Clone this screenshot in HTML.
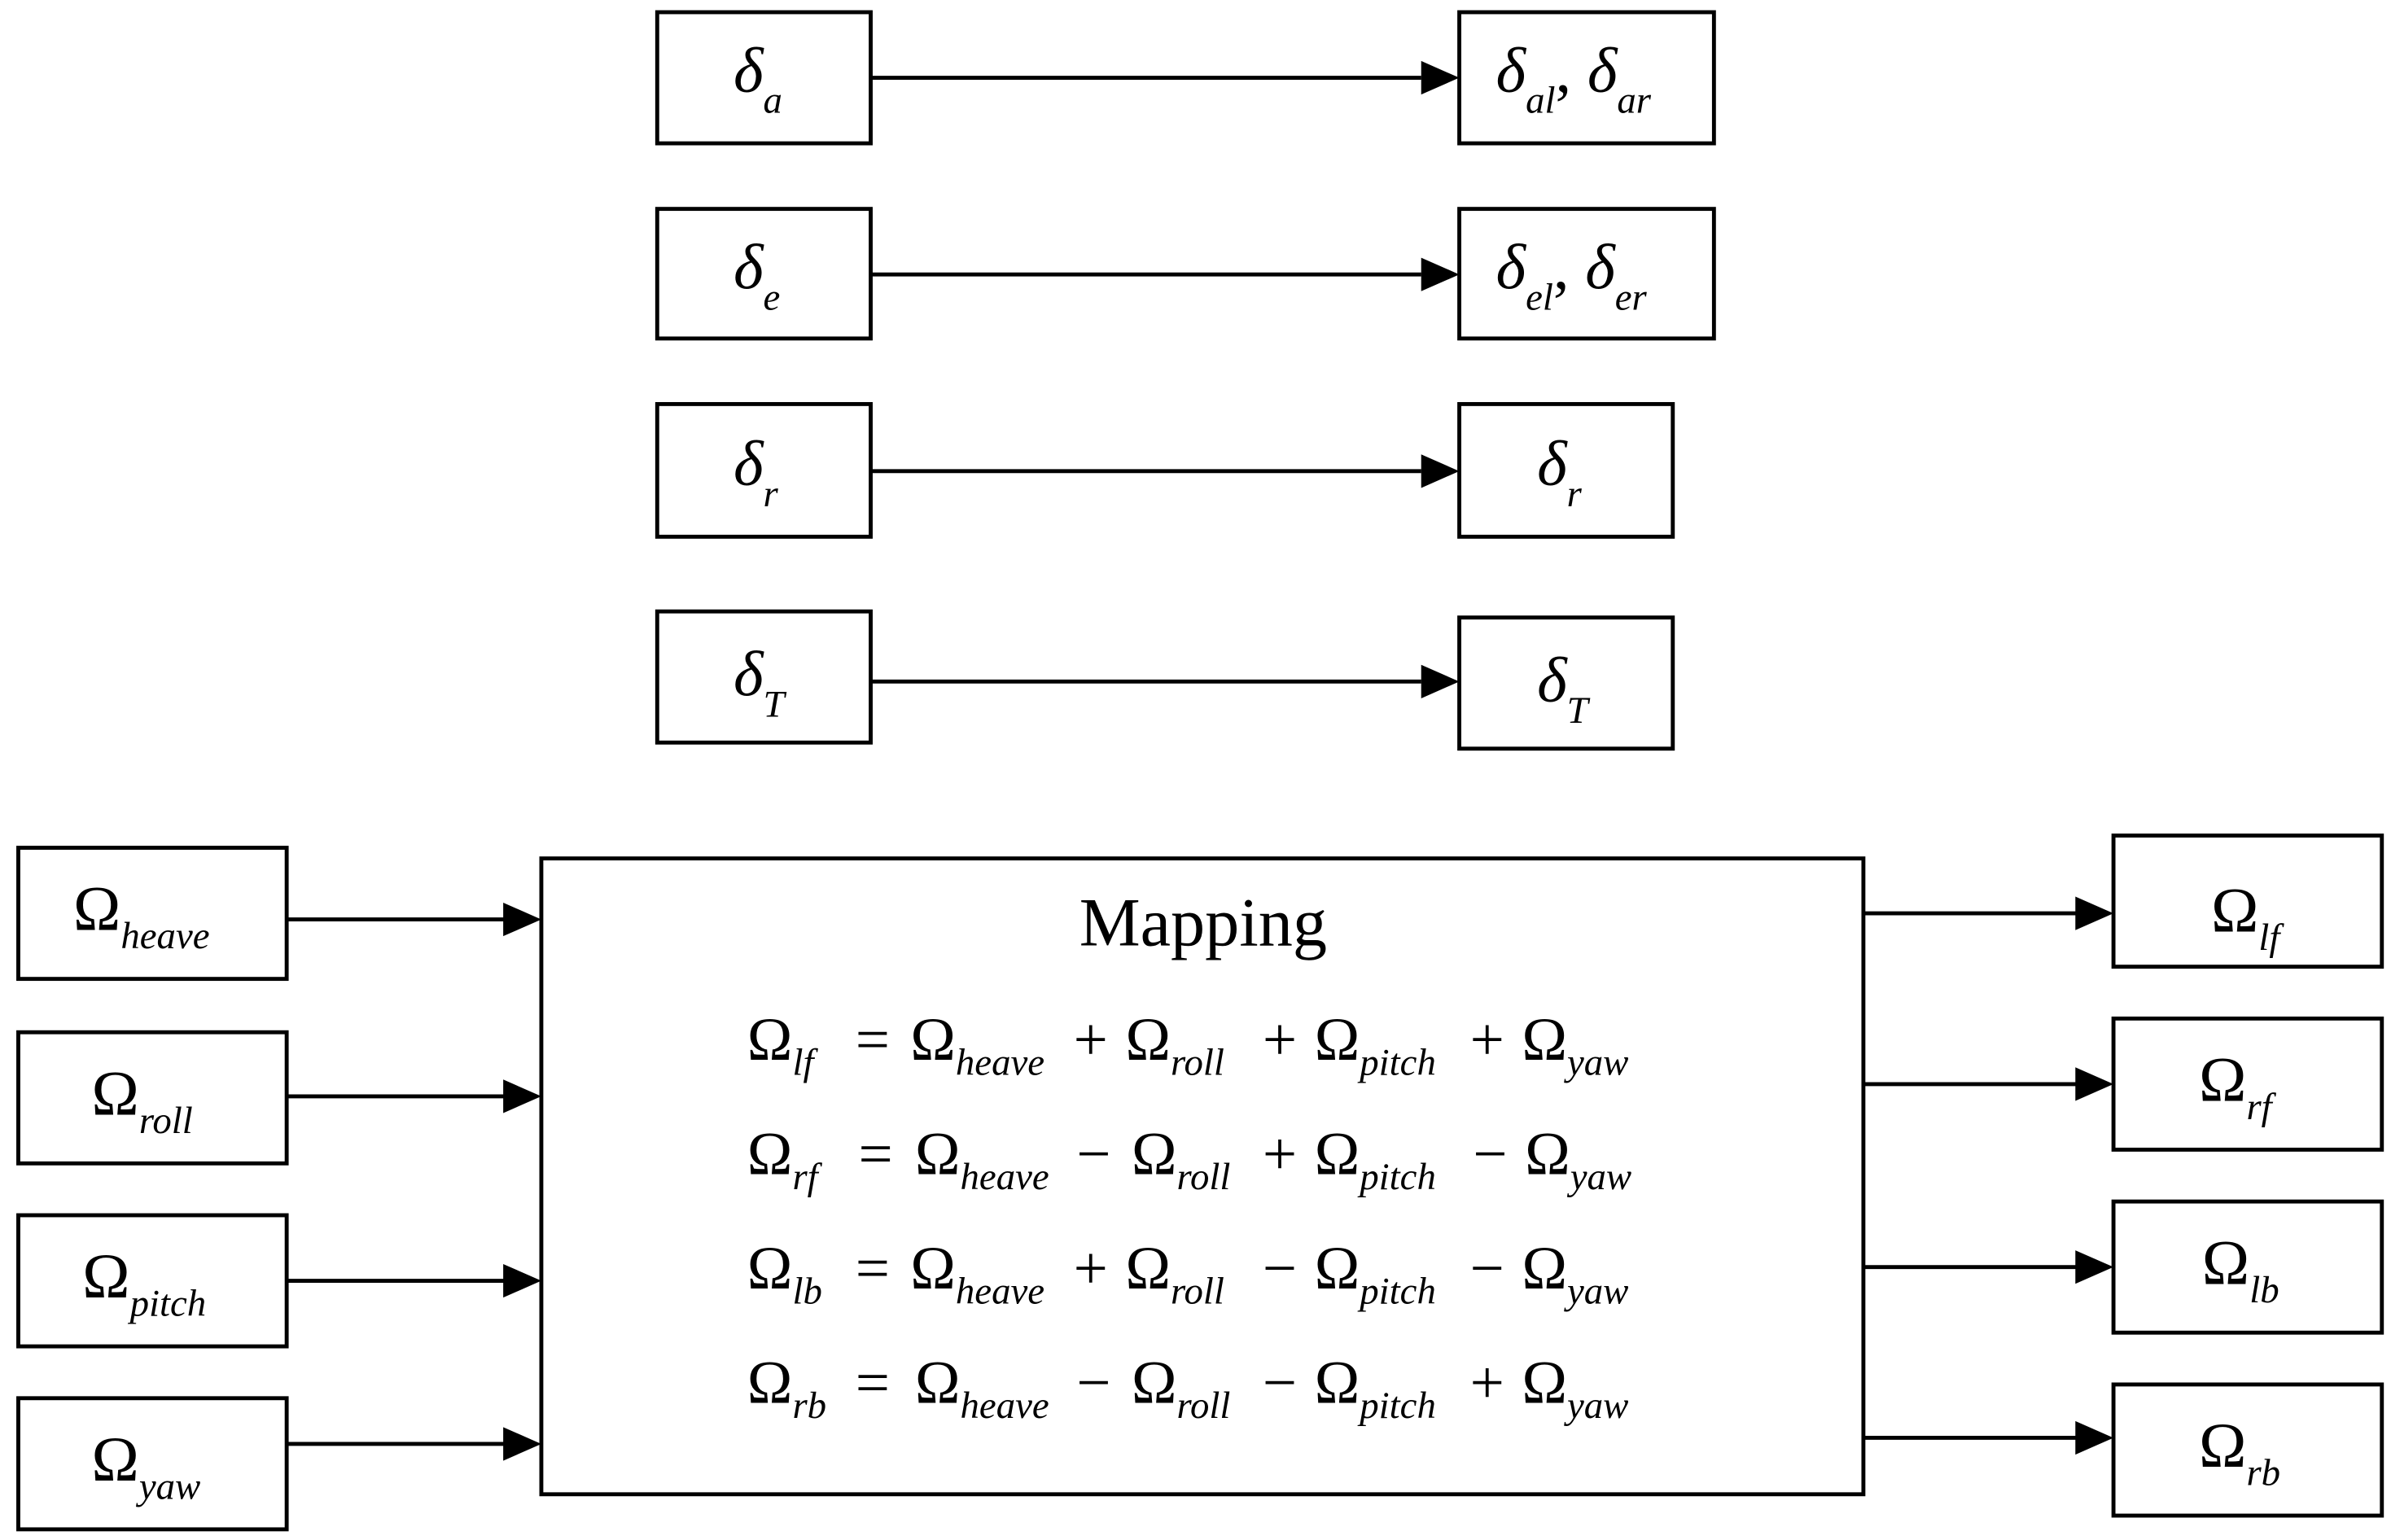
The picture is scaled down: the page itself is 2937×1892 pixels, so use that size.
<!DOCTYPE html>
<html><head><meta charset="utf-8"><style>
html,body{margin:0;padding:0;background:#fff;}
svg{display:block;}
text{font-family:"Liberation Serif",serif;fill:#000;}
.g{font-size:42px;}
.d{font-size:42px;font-style:italic;}
.s{font-size:25px;font-style:italic;}
.e{font-size:40px;}
</style></head><body>
<svg width="2937" height="1892" viewBox="0 0 1568 1010" preserveAspectRatio="none" xmlns="http://www.w3.org/2000/svg">
<g fill="none" stroke="#000" stroke-width="2.6">
<rect x="431" y="8" width="140" height="86"/><rect x="957" y="8" width="167" height="86"/>
<rect x="431" y="137" width="140" height="85"/><rect x="957" y="137" width="167" height="85"/>
<rect x="431" y="265" width="140" height="87"/><rect x="957" y="265" width="140" height="87"/>
<rect x="431" y="401" width="140" height="86"/><rect x="957" y="405" width="140" height="86"/>
<rect x="12" y="556" width="176" height="86"/><rect x="12" y="677" width="176" height="86"/>
<rect x="12" y="797" width="176" height="86"/><rect x="12" y="917" width="176" height="86"/>
<rect x="355" y="563" width="867" height="417"/>
<rect x="1386" y="548" width="176" height="86"/><rect x="1386" y="668" width="176" height="86"/>
<rect x="1386" y="788" width="176" height="86"/><rect x="1386" y="908" width="176" height="86"/>
</g>
<g stroke="#000" stroke-width="2.6">
<line x1="571" y1="51" x2="932" y2="51"/><line x1="571" y1="180" x2="932" y2="180"/>
<line x1="571" y1="309" x2="932" y2="309"/><line x1="571" y1="447" x2="932" y2="447"/>
<line x1="188" y1="603" x2="331" y2="603"/><line x1="188" y1="719" x2="331" y2="719"/>
<line x1="188" y1="840" x2="331" y2="840"/><line x1="188" y1="947" x2="331" y2="947"/>
<line x1="1222" y1="599" x2="1362" y2="599"/><line x1="1222" y1="711" x2="1362" y2="711"/>
<line x1="1222" y1="831" x2="1362" y2="831"/><line x1="1222" y1="943" x2="1362" y2="943"/>
</g>
<g fill="#000">
<path d="M957,51 l-25,-11 v22z"/><path d="M957,180 l-25,-11 v22z"/><path d="M957,309 l-25,-11 v22z"/><path d="M957,447 l-25,-11 v22z"/>
<path d="M355,603 l-25,-11 v22z"/><path d="M355,719 l-25,-11 v22z"/><path d="M355,840 l-25,-11 v22z"/><path d="M355,947 l-25,-11 v22z"/>
<path d="M1386,599 l-25,-11 v22z"/><path d="M1386,711 l-25,-11 v22z"/><path d="M1386,831 l-25,-11 v22z"/><path d="M1386,943 l-25,-11 v22z"/>
</g>
<text x="481" y="60" class="d">δ<tspan class="s" dy="14">a</tspan></text>
<text x="981" y="60" class="d">δ<tspan class="s" dy="14">al</tspan><tspan dy="-14" font-style="normal">,</tspan> δ<tspan class="s" dy="14">ar</tspan></text>
<text x="481" y="189" class="d">δ<tspan class="s" dy="14">e</tspan></text>
<text x="981" y="189" class="d">δ<tspan class="s" dy="14">el</tspan><tspan dy="-14" font-style="normal">,</tspan> δ<tspan class="s" dy="14">er</tspan></text>
<text x="481" y="318" class="d">δ<tspan class="s" dy="14">r</tspan></text>
<text x="1008" y="318" class="d">δ<tspan class="s" dy="14">r</tspan></text>
<text x="481" y="456" class="d">δ<tspan class="s" dy="14">T</tspan></text>
<text x="1008" y="460" class="d">δ<tspan class="s" dy="14">T</tspan></text>
<text x="48" y="610" class="g">Ω<tspan class="s" dy="12">heave</tspan></text>
<text x="60" y="731" class="g">Ω<tspan class="s" dy="12">roll</tspan></text>
<text x="54" y="851" class="g">Ω<tspan class="s" dy="12">pitch</tspan></text>
<text x="60" y="971" class="g">Ω<tspan class="s" dy="12">yaw</tspan></text>
<text x="1450" y="611" class="g">Ω<tspan class="s" dy="12">lf</tspan></text>
<text x="1442" y="722" class="g">Ω<tspan class="s" dy="12">rf</tspan></text>
<text x="1444" y="842" class="g">Ω<tspan class="s" dy="12">lb</tspan></text>
<text x="1442" y="962" class="g">Ω<tspan class="s" dy="12">rb</tspan></text>
<text x="789" y="620" font-size="45" text-anchor="middle">Mapping</text>
<text y="695" class="e"><tspan x="490">Ω</tspan><tspan class="s" dy="10">lf</tspan><tspan x="561" dy="-10">=</tspan><tspan x="597">Ω</tspan><tspan class="s" dy="10">heave</tspan><tspan x="704" dy="-10">+</tspan><tspan x="738">Ω</tspan><tspan class="s" dy="10">roll</tspan><tspan x="828" dy="-10">+</tspan><tspan x="862">Ω</tspan><tspan class="s" dy="10">pitch</tspan><tspan x="964" dy="-10">+</tspan><tspan x="998">Ω</tspan><tspan class="s" dy="10">yaw</tspan></text>
<text y="770" class="e"><tspan x="490">Ω</tspan><tspan class="s" dy="10">rf</tspan><tspan x="563" dy="-10">=</tspan><tspan x="600">Ω</tspan><tspan class="s" dy="10">heave</tspan><tspan x="706" dy="-10">−</tspan><tspan x="742">Ω</tspan><tspan class="s" dy="10">roll</tspan><tspan x="828" dy="-10">+</tspan><tspan x="862">Ω</tspan><tspan class="s" dy="10">pitch</tspan><tspan x="966" dy="-10">−</tspan><tspan x="1000">Ω</tspan><tspan class="s" dy="10">yaw</tspan></text>
<text y="845" class="e"><tspan x="490">Ω</tspan><tspan class="s" dy="10">lb</tspan><tspan x="561" dy="-10">=</tspan><tspan x="597">Ω</tspan><tspan class="s" dy="10">heave</tspan><tspan x="704" dy="-10">+</tspan><tspan x="738">Ω</tspan><tspan class="s" dy="10">roll</tspan><tspan x="828" dy="-10">−</tspan><tspan x="862">Ω</tspan><tspan class="s" dy="10">pitch</tspan><tspan x="964" dy="-10">−</tspan><tspan x="998">Ω</tspan><tspan class="s" dy="10">yaw</tspan></text>
<text y="920" class="e"><tspan x="490">Ω</tspan><tspan class="s" dy="10">rb</tspan><tspan x="561" dy="-10">=</tspan><tspan x="600">Ω</tspan><tspan class="s" dy="10">heave</tspan><tspan x="706" dy="-10">−</tspan><tspan x="742">Ω</tspan><tspan class="s" dy="10">roll</tspan><tspan x="828" dy="-10">−</tspan><tspan x="862">Ω</tspan><tspan class="s" dy="10">pitch</tspan><tspan x="964" dy="-10">+</tspan><tspan x="998">Ω</tspan><tspan class="s" dy="10">yaw</tspan></text>
</svg>
</body></html>
